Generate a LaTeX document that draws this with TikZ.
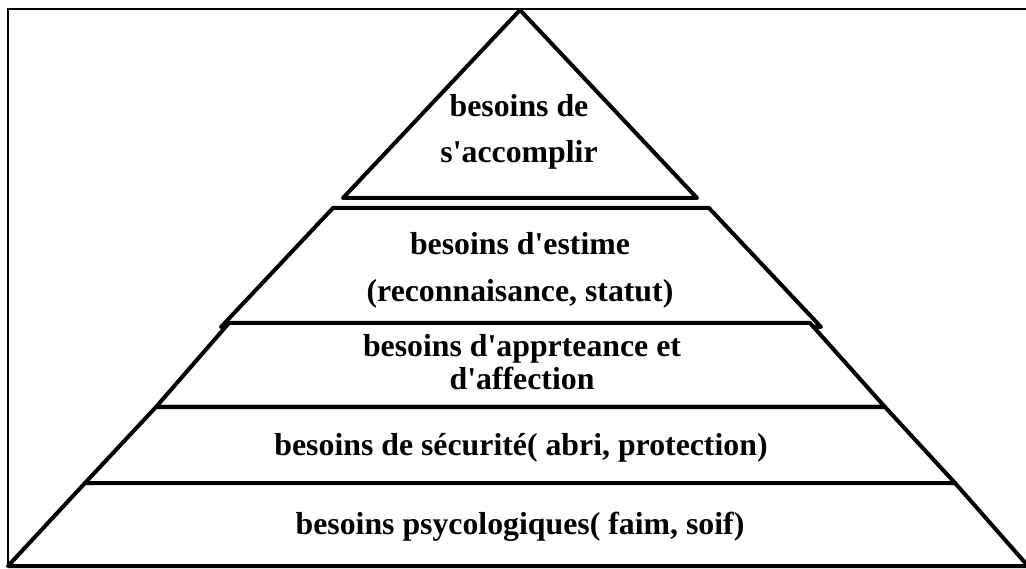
\documentclass[tikz,border=0pt]{standalone}
\usepackage{fontspec}
\setmainfont{Liberation Serif}[Ligatures=TeXOff]
\begin{document}
\begin{tikzpicture}[x=1pt,y=-1pt,
  layer/.style={line width=4pt,line join=round,fill=white},
  frame/.style={line width=1.3pt},
  lbl/.style={font=\fontsize{31.8}{46}\selectfont\bfseries,align=center,inner sep=0pt,anchor=base}]
\useasboundingbox (0,0) rectangle (1026,569);
% outer frame (open to the right)
\draw[frame] (1030,9) -- (8,9) -- (8,566);
% pyramid levels, top to bottom
\draw[layer] (520,10) -- (697,198) -- (343,198) -- cycle;
\draw[layer] (333,208) -- (709,208) -- (821,327) -- (221,327) -- cycle;
\draw[layer] (229,323) -- (810,323) -- (885,407) -- (156,407) -- cycle;
\draw[layer] (156,407) -- (885,407) -- (955,483) -- (85,483) -- cycle;
\draw[layer] (85,483) -- (955,483) -- (1028,566) -- (8,566) -- cycle;
% labels (anchored on the baseline of their last line)
\node[lbl] (t1) at (519,163) {besoins de\\s'accomplir};
\node[lbl,font=\fontsize{31.8}{47}\selectfont\bfseries] (t2) at (520,302) {besoins d'estime\\(reconnaisance, statut)};
\node[lbl,font=\fontsize{31.8}{33}\selectfont\bfseries] (t3) at (522,390) {besoins d'apprteance et\\d'affection};
\node[lbl] (t4) at (521,455) {besoins de sécurité( abri, protection)};
\node[lbl] (t5) at (520,534) {besoins psycologiques( faim, soif)};
\end{tikzpicture}
\end{document}
